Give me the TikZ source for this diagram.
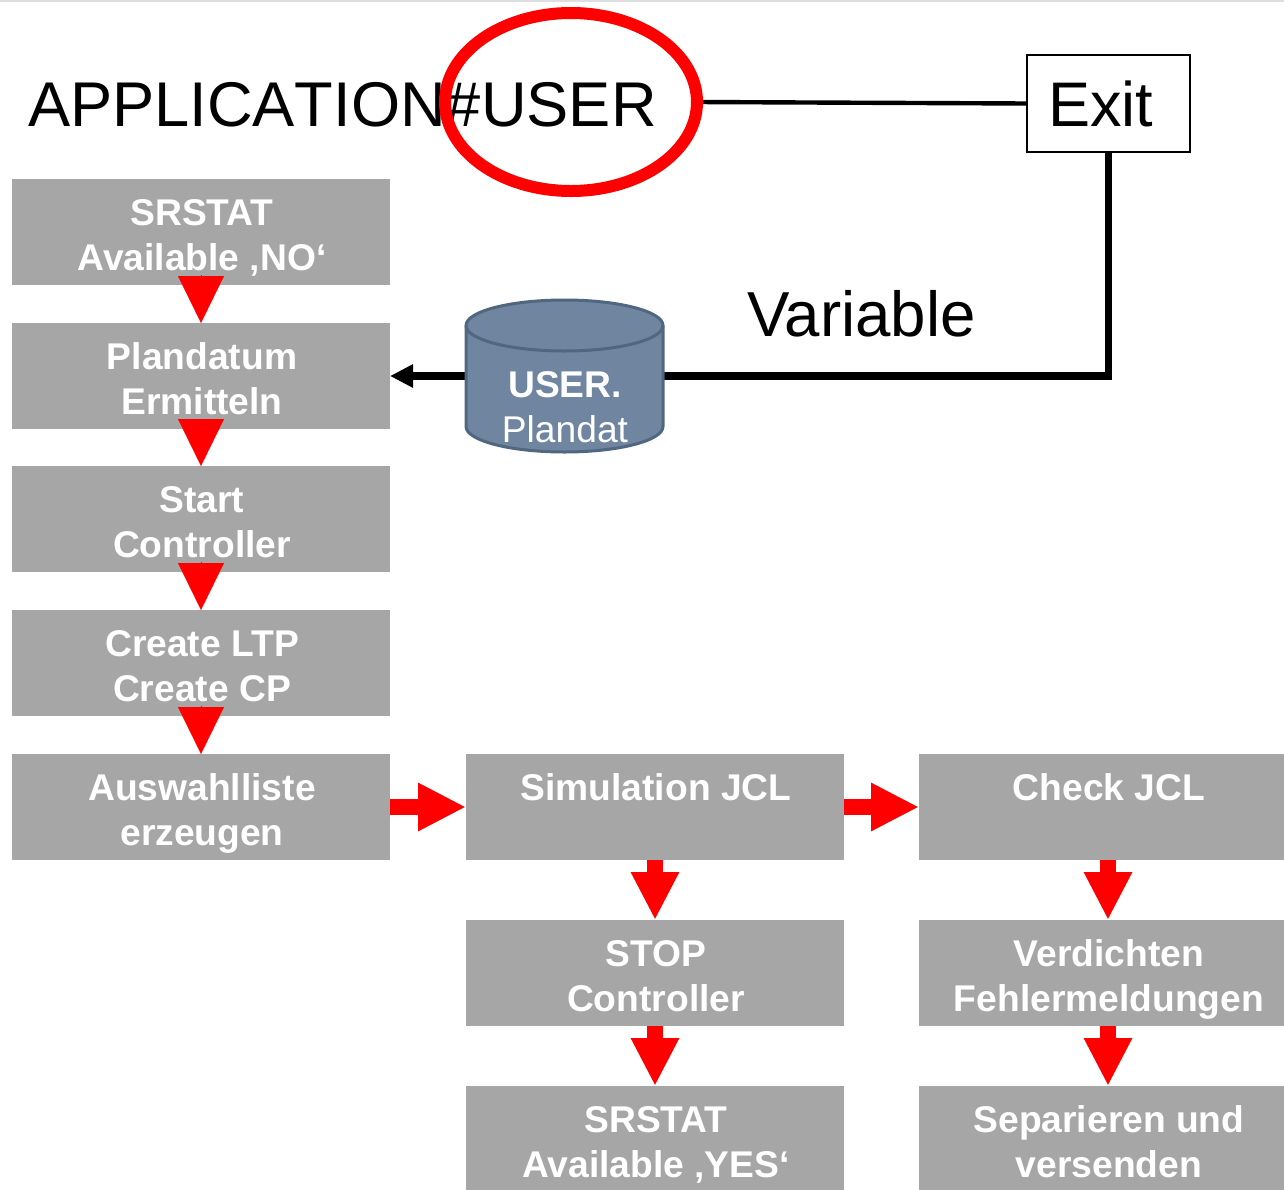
\documentclass[tikz,border=0pt]{standalone}
\usepackage{fontspec}
\setmainfont{Liberation Sans}
\newfontfamily\nokern[Kerning=Off]{Liberation Sans}
\usetikzlibrary{arrows.meta,shapes.geometric}
\definecolor{boxgrey}{HTML}{A6A6A6}
\definecolor{cylfill}{HTML}{6F85A0}
\definecolor{cylline}{HTML}{51667F}
\definecolor{topline}{HTML}{DEDEDE}
\newcommand\twolines[2]{\hspace*{1pt}\rule[-5pt]{0pt}{25.5pt}#1\\\hspace*{1pt}\rule[-5pt]{0pt}{20pt}#2}
\tikzset{
  x=0.5pt,y=-0.5pt,
  flowbox/.style={fill=boxgrey,text=white,minimum width=189pt,minimum height=53pt,inner sep=0pt,outer sep=0pt,align=center,font=\fontsize{18.6pt}{22.5pt}\selectfont\bfseries},
  bigtext/.style={font=\fontsize{31.6pt}{36pt}\selectfont,inner sep=0pt,outer sep=0pt,anchor=base west},
  cyltext/.style={text=white,inner sep=0pt,outer sep=0pt,anchor=base,font=\fontsize{18.6pt}{22.5pt}\selectfont},
  tiponly/.style={draw=red,line width=0.1pt,-{Triangle[length=23.5pt,width=23pt,fill=red,color=red]}},
  redflow/.style={draw=red,line width=8pt,-{Triangle[length=24pt,width=22.5pt,fill=red,color=red]}},
  thickline/.style={draw=black,line width=3.8pt},
  cylbody/.style={draw=cylline,fill=cylfill,line width=1.5pt},
}
\begin{document}
\begin{tikzpicture}
\useasboundingbox (0,0) rectangle (1284,1189);
\clip (0,0) rectangle (1284,1189);
\fill[topline] (0,0) rectangle (1284,2);
% boxes
\node[flowbox] (srno) at (201,232) {\twolines{SRSTAT}{Available ‚NO‘}};
\node[flowbox] (plan) at (201,376) {\twolines{Plandatum}{Ermitteln}};
\node[flowbox] (start) at (201,519) {\twolines{Start}{Controller}};
\node[flowbox] (ltp) at (201,663) {\twolines{Create LTP}{Create CP}};
\node[flowbox] (ausw) at (201,807) {\twolines{Auswahlliste}{erzeugen}};
\node[flowbox] (sim) at (655,807) {\twolines{Simulation JCL}{}};
\node[flowbox] (stop) at (655,973) {\twolines{STOP}{Controller}};
\node[flowbox] (sryes) at (655,1139) {\twolines{SRSTAT}{Available ‚YES‘}};
\node[flowbox] (check) at (1108,807) {\twolines{Check JCL}{}};
\node[flowbox] (verd) at (1108,973) {\twolines{Verdichten}{Fehlermeldungen}};
\node[flowbox] (sep) at (1108,1139) {\twolines{Separieren und}{versenden}};
% red connectors
\draw[tiponly] ([yshift=5pt]srno.south) -- (plan.north);
\draw[tiponly] ([yshift=5pt]plan.south) -- (start.north);
\draw[tiponly] ([yshift=5pt]start.south) -- (ltp.north);
\draw[tiponly] ([yshift=5pt]ltp.south) -- (ausw.north);
\draw[redflow] (ausw.east) -- (sim.west);
\draw[redflow] (sim.east) -- (check.west);
\draw[redflow] (sim.south) -- (stop.north);
\draw[redflow] (stop.south) -- (sryes.north);
\draw[redflow] (check.south) -- (verd.north);
\draw[redflow] (verd.south) -- (sep.north);
% top labels
\node[bigtext] (app) at (28,126) {\nokern APPLICATION\#USER};
\node[draw=black,line width=1.25pt,minimum width=81.5pt,minimum height=48.5pt,inner xsep=10.5pt,inner ysep=0pt,text width=60.5pt,align=left,text height=22.5pt,text depth=0pt,font=\fontsize{31.5pt}{36pt}\selectfont,outer sep=0pt] (exit) at (1108.5,103.5) {Exit};
\node[bigtext,font=\fontsize{31.8pt}{36pt}\selectfont] (var) at (747,336) {Variable};
% database anchor, lines, then cylinder on top
\node[minimum width=98.5pt,minimum height=76pt,inner sep=0pt,outer sep=0pt] (cyl) at (564.5,376) {};
\node[ellipse,draw=red,line width=6pt,minimum width=126pt,minimum height=89pt,inner sep=0pt,outer sep=0pt] (ring) at (571,102) {};
\draw[draw=black,line width=2.2pt,shorten <=3pt] (ring.east) -- (exit.west);
\draw[thickline] (exit.south) |- (cyl.east);
\draw[thickline,-{Triangle[length=11.5pt,width=11pt]}] (cyl.west) -- (plan.east);
\draw[cylbody] (466,325.5) -- (466,426.5)
  arc[start angle=180,end angle=360,x radius=49.25pt,y radius=12.75pt]
  -- (663,325.5)
  arc[start angle=0,end angle=180,x radius=49.25pt,y radius=12.75pt] -- cycle;
\draw[cylbody,fill=none] (466,325.5) arc[start angle=180,end angle=360,x radius=49.25pt,y radius=12.75pt];
\node[cyltext] (cyla) at (565,397) {\bfseries USER.};
\node[cyltext] (cylb) at (565,442) {Plandat};
\end{tikzpicture}
\end{document}
